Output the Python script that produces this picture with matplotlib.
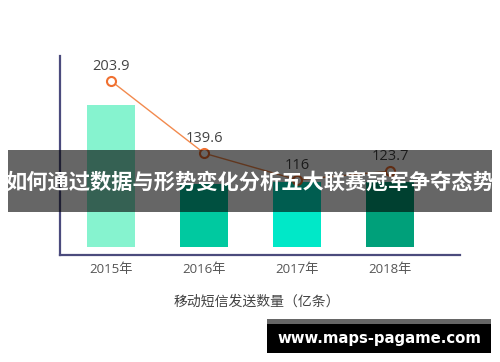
import matplotlib
matplotlib.use("Agg")
import matplotlib.pyplot as plt
from matplotlib.patches import Rectangle

plt.rcParams['font.family'] = ['Open Sans', 'Noto Sans CJK SC', 'DejaVu Sans']

categories = ['2015年', '2016年', '2017年', '2018年']
bar_values = [142, 63, 65, 65]
line_values = [203.9, 139.6, 116, 123.7]
bar_colors = ['#86f3cf', '#00c9a0', '#00e8c8', '#00a07a']
xlabel = '移动短信发送数量（亿条）'
banner_text = '如何通过数据与形势变化分析五大联赛冠军争夺态势'
watermark = 'www.maps-pagame.com'

W, H = 500, 362
fig = plt.figure(figsize=(W / 100, H / 100), dpi=100)
fig.patch.set_facecolor('white')

left, right, top, bottom = 60, 460, 56, 255
ax = fig.add_axes([left / W, 1 - bottom / H, (right - left) / W, (bottom - top) / H])
x = list(range(len(categories)))
ax.bar(x, bar_values, width=0.52, color=bar_colors, zorder=2)
ax.set_xlim(-0.55, 3.75)
ax.set_ylim(-8, 191)
ax.set_xticks(x)
ax.set_xticklabels(categories, fontsize=9.5, color='#555555')
ax.tick_params(axis='x', length=0, pad=6)
ax.set_yticks([])
for s in ['top', 'right']:
    ax.spines[s].set_visible(False)
for s in ['left', 'bottom']:
    ax.spines[s].set_color('#4b4b7d')
    ax.spines[s].set_linewidth(1.6)

ax2 = ax.twinx()
ax2.set_ylim(49, 226.2)
ax2.set_xlim(-0.55, 3.75)
ax2.plot(x, line_values, color='#f28a4e', linewidth=1.0, marker='o',
         markersize=6.5, markerfacecolor='white', markeredgecolor='#f07030',
         markeredgewidth=1.5, zorder=3)
for xi, v in zip(x, line_values):
    ax2.annotate(f'{v:g}', (xi, v), xytext=(0, 5), textcoords='offset points',
                 ha='center', va='bottom', fontsize=10.5, color='#444444')
ax2.set_yticks([])
for s in ax2.spines.values():
    s.set_visible(False)

fig.text(257 / W, 1 - 302 / H, xlabel, ha='center', va='center', fontsize=10,
         color='#444444', family=['Noto Sans CJK SC', 'DejaVu Sans'])

# banner overlay
fig.add_artist(Rectangle((8 / W, 1 - 212 / H), 484 / W, 62 / H, transform=fig.transFigure,
                         facecolor='black', alpha=0.6, edgecolor='none', zorder=5))
fig.text(250 / W, 1 - 182 / H, banner_text, ha='center', va='center', fontsize=15.3,
         fontweight='bold', color='white', family=['Noto Sans CJK SC', 'DejaVu Sans'], zorder=6)

# watermark
fig.add_artist(Rectangle((267 / W, 1 - 324 / H), 224 / W, 5 / H, transform=fig.transFigure,
                         facecolor='#666666', edgecolor='none', zorder=5))
fig.add_artist(Rectangle((267 / W, 1 - 353 / H), 224 / W, 29 / H, transform=fig.transFigure,
                         facecolor='black', edgecolor='none', zorder=5))
fig.text(379 / W, 1 - 338 / H, watermark, ha='center', va='center', fontsize=10.7,
         fontweight='bold', color='white', family='DejaVu Sans', zorder=6)

fig.savefig('out.png', dpi=100)
